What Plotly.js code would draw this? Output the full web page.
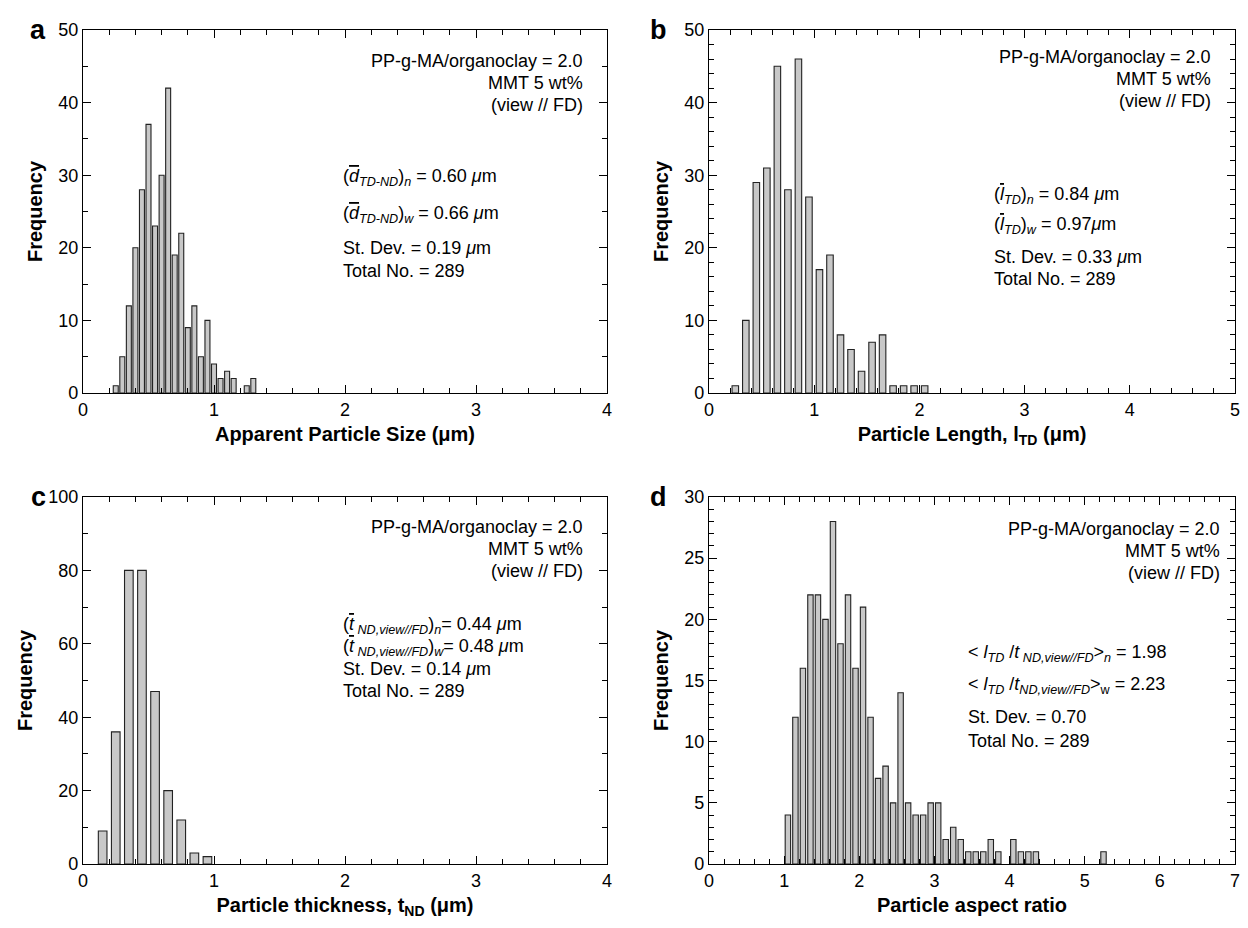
<!DOCTYPE html>
<html>
<head>
<meta charset="utf-8">
<script src="https://cdn.plot.ly/plotly-3.0.1.min.js"></script>
<style>html,body{margin:0;padding:0;background:#fff;}#chart{width:1248px;height:928px;}</style>
</head>
<body>
<div id="chart"></div>
<script>
// Panel a: apparent particle size (um)
const sizeBins = [0.25,0.30,0.35,0.40,0.45,0.50,0.55,0.60,0.65,0.70,0.75,0.80,0.85,0.90,0.95,1.00,1.05,1.10,1.15,1.25,1.30];
const sizeFreq = [1,5,12,20,28,37,23,30,42,19,22,9,12,5,10,4,2,3,2,1,2];
// Panel b: particle length l_TD (um)
const lengthBins = [0.25,0.35,0.45,0.55,0.65,0.75,0.85,0.95,1.05,1.15,1.25,1.35,1.45,1.55,1.65,1.75,1.85,1.95,2.05];
const lengthFreq = [1,10,29,31,45,28,46,27,17,19,8,6,3,7,8,1,1,1,1];
// Panel c: particle thickness t_ND (um)
const thickBins = [0.15,0.25,0.35,0.45,0.55,0.65,0.75,0.85,0.95];
const thickFreq = [9,36,80,80,47,20,12,3,2];
// Panel d: aspect ratio
const ratioBins = [1.05,1.15,1.25,1.35,1.45,1.55,1.65,1.75,1.85,1.95,2.05,2.15,2.25,2.35,2.45,2.55,2.65,2.75,2.85,2.95,3.05,3.15,3.25,3.35,3.45,3.55,3.65,3.75,3.85,4.05,4.15,4.25,4.35,5.25];
const ratioFreq = [4,12,16,22,22,20,28,18,22,16,21,12,7,8,5,14,5,4,4,5,5,2,3,2,1,1,1,2,1,2,1,1,1,1];

const W = 1248, H = 928;
const FONT = '"Liberation Sans", Arial, Helvetica, sans-serif';
const px = v => v / W, py = v => 1 - v / H;

function bar(x, y, w, xa, ya) {
  return {type:'bar', x:x, y:y, width:w, xaxis:xa, yaxis:ya,
    marker:{color:'#c8c8c8', line:{color:'#222', width:1.1}},
    hoverinfo:'skip', showlegend:false};
}
const data = [
  bar(sizeBins, sizeFreq, 0.038, 'x', 'y'),
  bar(lengthBins, lengthFreq, 0.062, 'x2', 'y2'),
  bar(thickBins, thickFreq, 0.066, 'x3', 'y3'),
  bar(ratioBins, ratioFreq, 0.072, 'x4', 'y4')
];

function xax(dom, range, anchor, title, minor) {
  return {domain:dom, range:range, anchor:anchor, dtick:1, tick0:0,
    ticks:'inside', ticklen:8, tickwidth:1, tickcolor:'#000',
    minor:{dtick:minor, ticks:'inside', ticklen:5, tickwidth:1, tickcolor:'#000'},
    showline:true, linecolor:'#000', linewidth:1.2, mirror:'allticks',
    showgrid:false, zeroline:false, fixedrange:true,
    tickfont:{family:FONT, size:18, color:'#000'},
    title:{text:title, font:{family:FONT, size:20, color:'#000'}, standoff:8}};
}
function yax(dom, range, anchor, dtick, minor) {
  return {domain:dom, range:range, anchor:anchor, dtick:dtick, tick0:0,
    ticks:'inside', ticklen:8, tickwidth:1, tickcolor:'#000',
    minor:{dtick:minor, ticks:'inside', ticklen:5, tickwidth:1, tickcolor:'#000'},
    showline:true, linecolor:'#000', linewidth:1.2, mirror:'allticks',
    showgrid:false, zeroline:false, fixedrange:true,
    tickfont:{family:FONT, size:18, color:'#000'},
    title:{text:'<b>Frequency</b>', font:{family:FONT, size:20, color:'#000'}, standoff:10}};
}
const xA = [px(83), px(607)], xB = [px(709), px(1235)];
const yTop = [py(393), py(30)], yBot = [py(864), py(497)];

const ann = [];
function txt(x, y, s, align, size, extra) {
  ann.push(Object.assign({xref:'paper', yref:'paper', x:px(x), y:py(y), text:s,
    showarrow:false, xanchor:align, yanchor:'middle', align:align,
    font:{family:FONT, size:size||18, color:'#000'}}, extra||{}));
}
// panel letters
txt(38, 30, '<b>a</b>', 'center', 27);
txt(658, 30, '<b>b</b>', 'center', 27);
txt(38, 497, '<b>c</b>', 'center', 27);
txt(658, 497, '<b>d</b>', 'center', 27);

const info = ['PP-g-MA/organoclay = 2.0', 'MMT 5 wt%', '(view // FD)'];
function infoBlock(xr, y0) {
  info.forEach((s, i) => txt(xr, y0 + i * 22, s, 'right', 18));
}
infoBlock(585, 61);
infoBlock(1213, 57);
infoBlock(585, 527);
infoBlock(1222, 529);

const ol = c => '<span style="text-decoration:overline">' + c + '</span>';
// panel a stats
txt(341, 178, '(<i>' + ol('d') + '</i><sub><i>TD-ND</i></sub>)<sub><i>n</i></sub> = 0.60 <i>μ</i>m', 'left', 18);
txt(341, 214, '(<i>' + ol('d') + '</i><sub><i>TD-ND</i></sub>)<sub><i>w</i></sub> = 0.66 <i>μ</i>m', 'left', 18);
txt(341, 248, 'St. Dev. = 0.19 <i>μ</i>m', 'left', 18);
txt(341, 271, 'Total No. = 289', 'left', 18);
// panel b stats
txt(992, 195, '(<i>' + ol('l') + '</i><sub><i>TD</i></sub>)<sub><i>n</i></sub> = 0.84 <i>μ</i>m', 'left', 18);
txt(992, 225, '(<i>' + ol('l') + '</i><sub><i>TD</i></sub>)<sub><i>w</i></sub> = 0.97<i>μ</i>m', 'left', 18);
txt(992, 257, 'St. Dev. = 0.33 <i>μ</i>m', 'left', 18);
txt(992, 279, 'Total No. = 289', 'left', 18);
// panel c stats
txt(341, 625, '(<i>' + ol('t') + '</i><sub><i> ND,view//FD</i></sub>)<sub><i>n</i></sub>= 0.44 <i>μ</i>m', 'left', 18);
txt(341, 647, '(<i>' + ol('t') + '</i><sub><i> ND,view//FD</i></sub>)<sub><i>w</i></sub>= 0.48 <i>μ</i>m', 'left', 18);
txt(341, 669, 'St. Dev. = 0.14 <i>μ</i>m', 'left', 18);
txt(341, 691, 'Total No. = 289', 'left', 18);
// panel d stats
txt(966, 653, '&lt; <i>l</i><sub><i>TD</i></sub> /<i>t</i><sub><i> ND,view//FD</i></sub>&gt;<sub><i>n</i></sub> = 1.98', 'left', 18);
txt(966, 685, '&lt; <i>l</i><sub><i>TD</i></sub> /<i>t</i><sub><i>ND,view//FD</i></sub>&gt;<sub>w</sub> = 2.23', 'left', 18);
txt(966, 717, 'St. Dev. = 0.70', 'left', 18);
txt(966, 741, 'Total No. = 289', 'left', 18);

const layout = {
  width:W, height:H, margin:{l:0, r:0, t:0, b:0},
  paper_bgcolor:'#fff', plot_bgcolor:'#fff', bargap:0,
  font:{family:FONT, color:'#000'},
  xaxis: xax(xA, [0,4], 'y', '<b>Apparent Particle Size (μm)</b>', 0.2),
  yaxis: yax(yTop, [0,50], 'x', 10, 5),
  xaxis2: xax(xB, [0,5], 'y2', '<b>Particle Length, l<sub>TD</sub> (μm)</b>', 0.2),
  yaxis2: yax(yTop, [0,50], 'x2', 10, 2),
  xaxis3: xax(xA, [0,4], 'y3', '<b>Particle thickness, t<sub>ND</sub> (μm)</b>', 0.2),
  yaxis3: yax(yBot, [0,100], 'x3', 20, 10),
  xaxis4: xax(xB, [0,7], 'y4', '<b>Particle aspect ratio</b>', 0.2),
  yaxis4: yax(yBot, [0,30], 'x4', 5, 1),
  annotations: ann
};
Plotly.newPlot('chart', data, layout, {displayModeBar:false, staticPlot:true});
</script>
</body>
</html>
